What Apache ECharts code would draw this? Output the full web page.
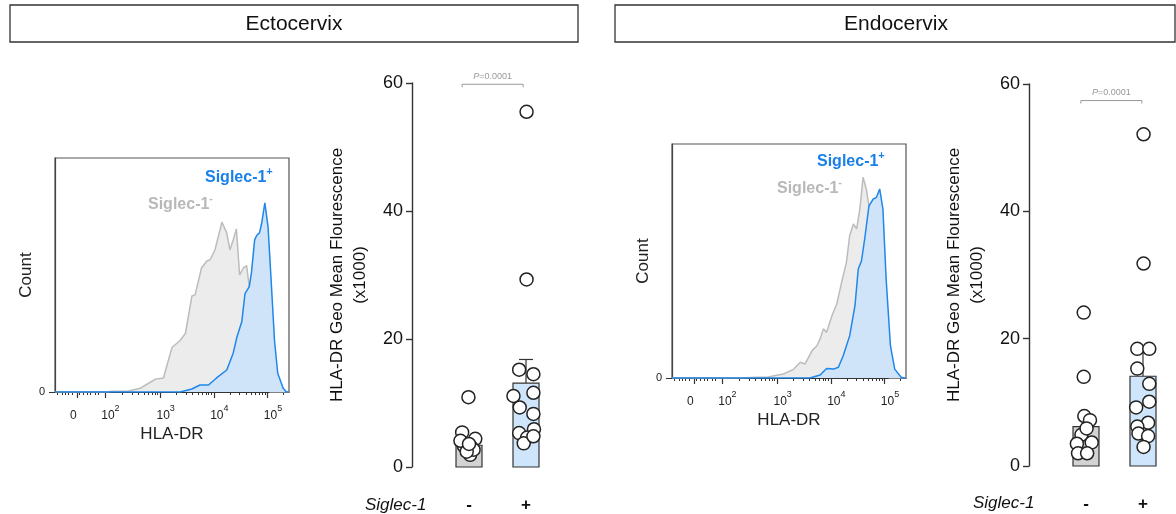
<!DOCTYPE html>
<html><head><meta charset="utf-8">
<script src="https://cdn.jsdelivr.net/npm/echarts@6/dist/echarts.min.js"></script>
<style>html,body{margin:0;padding:0;background:#fff}#c{width:1176px;height:514px}</style>
</head><body><div id="c"></div>
<script>
// ---------- DATA ----------
const panelTitles = ['Ectocervix', 'Endocervix'];
// histogram x axis in display units (decades, biexponential)
const histLabelValues = [1.28, 1.97, 3, 4, 5];
const histLabelTexts = ['0', '10^2', '10^3', '10^4', '10^5'];
const histMajorTicks = [1.45, 1.97, 3, 4, 5];
const histMinorTicks = [1.08, 1.17, 1.23, 1.29, 1.37, 1.50, 1.57, 1.64, 1.70, 1.79, 1.85,
  2.30, 2.48, 2.60, 2.70, 2.78, 2.85, 2.90, 2.95,
  3.30, 3.48, 3.60, 3.70, 3.78, 3.85, 3.90, 3.95,
  4.30, 4.48, 4.60, 4.70, 4.78, 4.85, 4.90, 4.95, 5.30];
// histograms [HLA-DR display value, count (% of max scale)]
const ectoNegHist = [[1.04,0],[2.0,0],[2.1,0.3],[2.39,0.3],[2.63,1.6],[2.91,5.5],[3.06,6],[3.22,19],[3.37,22],[3.47,25],[3.59,41],[3.65,41.5],[3.77,53],[3.87,56],[3.93,56.5],[4.02,60.7],[4.15,72.6],[4.24,68],[4.30,60.7],[4.36,65],[4.42,69.7],[4.48,50],[4.55,53],[4.61,54],[4.66,45],[4.80,20],[4.95,3],[5.05,0],[5.40,0]];
const ectoPosHist = [[1.04,0],[3.37,0],[3.59,1.3],[3.74,3],[3.90,3],[4.05,6],[4.24,9.4],[4.36,16.6],[4.43,23.5],[4.52,30],[4.58,42],[4.66,45],[4.70,51],[4.76,65],[4.80,67],[4.85,68],[4.89,72],[4.95,80.8],[5.01,70.5],[5.07,46.6],[5.13,22],[5.19,8],[5.29,1.7],[5.35,0],[5.40,0]];
const endoNegHist = [[1.04,0],[2.3,0],[2.6,0.3],[2.81,0.3],[2.94,1],[3.12,1.7],[3.31,3.8],[3.43,6.7],[3.52,6],[3.65,11.7],[3.74,13.8],[3.80,16.7],[3.86,21],[3.92,19.5],[4.02,26.6],[4.11,31.6],[4.20,40.9],[4.29,49.4],[4.35,60.8],[4.42,65.8],[4.48,63.7],[4.54,72.2],[4.60,85.8],[4.66,80.8],[4.71,73.6],[4.84,30],[4.99,5],[5.09,0],[5.40,0]];
const endoPosHist = [[1.04,0],[3.61,0],[3.80,1.3],[3.92,4.1],[4.05,3.8],[4.14,4.6],[4.23,9.5],[4.35,18],[4.45,31],[4.51,46.6],[4.57,50],[4.63,59.4],[4.71,73.6],[4.79,76.5],[4.85,77.2],[4.91,80.8],[4.97,72.2],[5.03,42.3],[5.11,13.8],[5.19,3.8],[5.31,0.3],[5.37,0],[5.40,0]];

// bar plot: group 1 = Siglec-1 -, group 2 = Siglec-1 +
const barCategories = ['-', '+'];
const ectoBarMean = [3.4, 13.1];
const ectoBarErrTop = [4.3, 16.8];
const endoBarMean = [6.2, 14.1];
const endoBarErrTop = [7.8, 17.8];
// individual points (x = group position with jitter, y = GeoMFI x1000)
const ectoNegX = [0.99, 0.88, 1.11, 0.91, 1.04, 1.02, 0.85, 1.08, 0.96, 1.00];
const ectoNegY = [10.9, 5.4, 4.4, 3.3, 3.1, 1.9, 4.1, 2.7, 2.4, 3.6];
const ectoPosX = [1.88, 2.13, 1.78, 2.13, 1.89, 2.13, 1.88, 2.14, 2.02, 1.96, 2.13, 2.01, 2.01];
const ectoPosY = [15.2, 14.5, 11.1, 11.6, 9.3, 8.3, 5.3, 5.9, 4.6, 3.7, 4.8, 55.5, 29.3];
const endoNegX = [0.96, 0.96, 0.97, 1.07, 0.92, 0.84, 1.10, 0.86, 1.02, 1.01];
const endoNegY = [24.1, 14.0, 7.85, 7.2, 4.9, 3.5, 3.7, 2.0, 2.0, 5.9];
const endoPosX = [1.90, 2.11, 1.90, 2.11, 2.11, 1.88, 2.09, 1.90, 1.92, 2.09, 2.01, 2.01, 2.01];
const endoPosY = [18.4, 18.4, 15.3, 12.9, 10.1, 9.2, 6.8, 6.2, 5.1, 4.7, 3.0, 52.1, 31.8];
// significance bracket [x start, x end, y]
const ectoBracket = [0.88, 1.95, 59.8];
const endoBracket = [0.91, 1.98, 57.4];
const pText = 'P=0.0001';

// ---------- STYLE ----------
const FF = '"Liberation Sans", Arial, sans-serif';
const greyLine = '#bcbcbc', greyFill = '#ececec';
const blueLine = '#1f86ea', blueFill = '#cfe4f9';
const barFills = ['#d3d3d3', '#cfe5fb'];

function zip(a, b) { return a.map((v, i) => [v, b[i]]); }

function histLabelFmt(v) {
  let best = 0;
  histLabelValues.forEach((lv, i) => { if (Math.abs(lv - v) < Math.abs(histLabelValues[best] - v)) best = i; });
  const t = histLabelTexts[best].split('^');
  return t.length > 1 ? '{b|' + t[0] + '}{s|' + t[1] + '}' : '{b|' + t[0] + '}';
}

function histXAxes(gridIndex) {
  return [{
    type: 'value', gridIndex, min: 1.04, max: 5.40, position: 'bottom',
    axisLine: { show: true, onZero: false, lineStyle: { color: '#333', width: 1.2 } },
    axisTick: { show: true, customValues: histMajorTicks, length: 6, lineStyle: { color: '#333', width: 1.2 } },
    axisLabel: {
      customValues: histLabelValues, formatter: histLabelFmt, margin: 12, padding: [0, 0, 0, 11],
      rich: {
        b: { fontSize: 12, color: '#222', fontFamily: FF, padding: [6, 0, 0, 0], verticalAlign: 'bottom' },
        s: { fontSize: 9, color: '#222', fontFamily: FF, lineHeight: 10, verticalAlign: 'top' }
      }
    },
    splitLine: { show: false },
    name: 'HLA-DR', nameLocation: 'middle', nameGap: 34,
    nameTextStyle: { fontSize: 17, color: '#222', fontFamily: FF }
  }, {
    type: 'value', gridIndex, min: 1.04, max: 5.40, position: 'bottom',
    axisLine: { show: false },
    axisTick: { show: true, customValues: histMinorTicks, length: 3, lineStyle: { color: '#333', width: 1 } },
    axisLabel: { show: false }, splitLine: { show: false }
  }];
}
function histYAxis(gridIndex) {
  return {
    type: 'value', gridIndex, min: 0, max: 100,
    axisLine: { show: true, lineStyle: { color: '#444', width: 1.2 } },
    axisTick: { show: true, customValues: [0], length: 6, lineStyle: { color: '#333' } },
    axisLabel: { customValues: [0], fontSize: 11, color: '#222', margin: 10, fontFamily: FF },
    splitLine: { show: false },
    name: 'Count', nameLocation: 'middle', nameGap: 12,
    nameTextStyle: { fontSize: 17, color: '#222', fontFamily: FF }
  };
}
function barXAxis(gridIndex) {
  return {
    type: 'value', gridIndex, min: 0, max: 2.5,
    axisLine: { show: false }, axisTick: { show: false }, splitLine: { show: false },
    axisLabel: {
      customValues: [1, 2], formatter: v => barCategories[Math.round(v) - 1],
      fontSize: 17, fontWeight: 'bold', color: '#111', margin: 30, fontFamily: FF
    }
  };
}
function barYAxis(gridIndex) {
  return {
    type: 'value', gridIndex, min: 0, max: 60, interval: 20,
    axisLine: { show: true, lineStyle: { color: '#333', width: 1.4 } },
    axisTick: { show: true, length: 6, lineStyle: { color: '#333', width: 1.4 } },
    axisLabel: { fontSize: 18, color: '#111', margin: 9, fontFamily: FF },
    splitLine: { show: false },
    name: 'HLA-DR Geo Mean Flourescence\n(x1000)', nameLocation: 'middle', nameGap: 40,
    nameTextStyle: { fontSize: 17, lineHeight: 23, color: '#111', fontFamily: FF }
  };
}

function histSeries(ax, data, line, fill, z) {
  return {
    type: 'line', xAxisIndex: ax, yAxisIndex: ax === 0 ? 0 : 2, data, symbol: 'none', smooth: false, z,
    lineStyle: { color: line, width: 1.5 }, areaStyle: { color: fill, opacity: 1 }, silent: true
  };
}
function barSeries(ax, means, errs) {
  return {
    type: 'custom', xAxisIndex: ax, yAxisIndex: ax === 2 ? 1 : 3,
    data: means.map((m, i) => [i + 1, m, errs[i]]),
    encode: { x: 0, y: [1, 2] },
    renderItem: (params, api) => {
      const x = api.value(0), m = api.value(1), e = api.value(2);
      const c = api.coord([x, m]), c0 = api.coord([x, 0]), ce = api.coord([x, e]);
      const hw = 13;
      return {
        type: 'group', children: [
          { type: 'line', shape: { x1: c[0], y1: c[1], x2: ce[0], y2: ce[1] }, style: { stroke: '#333', lineWidth: 1.2 } },
          { type: 'line', shape: { x1: c[0] - 7, y1: ce[1], x2: c[0] + 7, y2: ce[1] }, style: { stroke: '#333', lineWidth: 1.2 } },
          { type: 'rect', shape: { x: c[0] - hw, y: c[1], width: 2 * hw, height: c0[1] - c[1] },
            style: { fill: barFills[params.dataIndex], stroke: '#333', lineWidth: 1.2 } }
        ]
      };
    }
  };
}
function pointSeries(ax, xs, ys) {
  return {
    type: 'scatter', xAxisIndex: ax, yAxisIndex: ax === 2 ? 1 : 3, data: zip(xs, ys), z: 5,
    symbol: 'circle', symbolSize: 13,
    itemStyle: { color: '#fff', borderColor: '#222', borderWidth: 1.5, opacity: 1 }
  };
}
function bracketSeries(ax, br) {
  return {
    type: 'custom', xAxisIndex: ax, yAxisIndex: ax === 2 ? 1 : 3, data: [br], encode: { x: [0, 1], y: 2 },
    renderItem: (params, api) => {
      const a = api.coord([api.value(0), api.value(2)]);
      const b = api.coord([api.value(1), api.value(2)]);
      return {
        type: 'group', children: [
          { type: 'polyline', shape: { points: [[a[0], a[1] + 3], [a[0], a[1]], [b[0], b[1]], [b[0], b[1] + 3]] },
            style: { stroke: '#9a9a9a', lineWidth: 1, fill: null } },
          { type: 'text', style: {
              x: (a[0] + b[0]) / 2, y: a[1] - 8, align: 'center', verticalAlign: 'middle',
              text: '{i|P}{n|' + pText.slice(1) + '}',
              rich: { i: { fontStyle: 'italic', fontSize: 9, fill: '#999', fontFamily: FF },
                      n: { fontSize: 9, fill: '#999', fontFamily: FF } } } }
        ]
      };
    }
  };
}

function legendText(x, y, sign, color) {
  return {
    type: 'text', x, y, silent: true,
    style: {
      text: '{a|Siglec-1}{s|' + sign + '}', align: 'left', verticalAlign: 'middle',
      rich: {
        a: { fontSize: 16, fontWeight: 'bold', fill: color, fontFamily: FF, padding: [4, 0, 0, 0], verticalAlign: 'bottom' },
        s: { fontSize: 11, fontWeight: 'bold', fill: color, fontFamily: FF, lineHeight: 11, verticalAlign: 'top' }
      }
    }
  };
}

const option = {
  animation: false,
  backgroundColor: '#fff',
  textStyle: { fontFamily: FF },
  grid: [
    { left: 55, top: 158, width: 234, height: 234, show: true, borderColor: '#555', borderWidth: 1.2 },
    { left: 412, top: 83, width: 142.5, height: 384 },
    { left: 672, top: 144, width: 234, height: 234, show: true, borderColor: '#555', borderWidth: 1.2 },
    { left: 1029, top: 84, width: 142.5, height: 382 }
  ],
  xAxis: [...histXAxes(0), barXAxis(1), ...histXAxes(2), barXAxis(3)],
  yAxis: [histYAxis(0), barYAxis(1), histYAxis(2), barYAxis(3)],
  series: [
    histSeries(0, ectoNegHist, greyLine, greyFill, 2),
    histSeries(0, ectoPosHist, blueLine, blueFill, 3),
    histSeries(3, endoNegHist, greyLine, greyFill, 2),
    histSeries(3, endoPosHist, blueLine, blueFill, 3),
    barSeries(2, ectoBarMean, ectoBarErrTop),
    pointSeries(2, ectoNegX, ectoNegY),
    pointSeries(2, ectoPosX, ectoPosY),
    bracketSeries(2, ectoBracket),
    barSeries(5, endoBarMean, endoBarErrTop),
    pointSeries(5, endoNegX, endoNegY),
    pointSeries(5, endoPosX, endoPosY),
    bracketSeries(5, endoBracket)
  ],
  graphic: [
    { type: 'rect', shape: { x: 10, y: 5, width: 568, height: 37 }, style: { fill: '#fff', stroke: '#333', lineWidth: 1.3 } },
    { type: 'text', x: 294, y: 24, style: { text: panelTitles[0], align: 'center', verticalAlign: 'middle', font: '21px ' + FF, fill: '#111' } },
    { type: 'rect', shape: { x: 615, y: 5, width: 560, height: 37 }, style: { fill: '#fff', stroke: '#333', lineWidth: 1.3 } },
    { type: 'text', x: 896, y: 24, style: { text: panelTitles[1], align: 'center', verticalAlign: 'middle', font: '21px ' + FF, fill: '#111' } },
    legendText(205, 176, '+', '#1a80e8'),
    legendText(148, 203, '-', '#b8b8b8'),
    legendText(817, 160, '+', '#1a80e8'),
    legendText(777, 187, '-', '#b8b8b8'),
    { type: 'text', x: 365, y: 505, style: { text: 'Siglec-1', align: 'left', verticalAlign: 'middle', font: 'italic 17px ' + FF, fill: '#111' } },
    { type: 'text', x: 973, y: 503, style: { text: 'Siglec-1', align: 'left', verticalAlign: 'middle', font: 'italic 17px ' + FF, fill: '#111' } }
  ]
};
const chart = echarts.init(document.getElementById('c'), null, { renderer: 'canvas' });
chart.setOption(option);
</script></body></html>
